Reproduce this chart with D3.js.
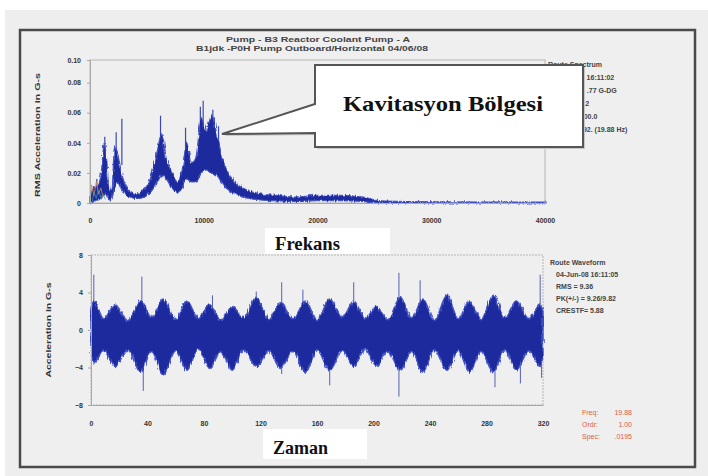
<!DOCTYPE html>
<html>
<head>
<meta charset="utf-8">
<script src="https://cdn.jsdelivr.net/npm/d3@7"></script>
<style>
  body { margin: 0; background: #fff; }
</style>
</head>
<body>
<svg id="chart" width="708" height="476"></svg>
<script>
// ---- spectrum (top) ----
const specFreq = [0, 300, 700, 1000, 1250, 1450, 1700, 1950, 2150, 2400, 2700, 3000, 3500, 4200, 4800, 5300, 5800, 6300, 6700, 7200, 7700, 8100, 8500, 8900, 9300, 9800, 10200, 10700, 11200, 11700, 12300, 13000, 14000, 15000, 16500, 18000, 20000, 22000, 24000, 25500, 30000, 35000, 40000];
const specHi = [0.004, 0.010, 0.012, 0.020, 0.040, 0.030, 0.008, 0.010, 0.038, 0.034, 0.022, 0.014, 0.008, 0.006, 0.010, 0.016, 0.030, 0.046, 0.030, 0.020, 0.014, 0.022, 0.040, 0.026, 0.030, 0.056, 0.048, 0.058, 0.044, 0.028, 0.018, 0.012, 0.008, 0.006, 0.005, 0.004, 0.005, 0.005, 0.004, 0.0015, 0.0008, 0.0006, 0.0006];
const specLo = [0.000, 0.001, 0.002, 0.003, 0.006, 0.005, 0.002, 0.003, 0.010, 0.014, 0.010, 0.007, 0.004, 0.003, 0.004, 0.007, 0.012, 0.018, 0.016, 0.010, 0.007, 0.010, 0.016, 0.014, 0.014, 0.020, 0.022, 0.020, 0.018, 0.012, 0.008, 0.005, 0.003, 0.002, 0.0015, 0.001, 0.0015, 0.0015, 0.001, 0.000, 0.000, 0.000, 0.000];
const specSpikes = [[1300, 0.044], [2300, 0.047], [2800, 0.056], [6200, 0.058], [8400, 0.050], [9700, 0.064], [9950, 0.068], [10800, 0.062], [11300, 0.051], [600, 0.016]];
const specOrangeFreq = [0, 150, 350, 550, 750, 950, 1150];
const specOrange = [0.002, 0.012, 0.005, 0.014, 0.006, 0.010, 0.004];
const specXTicks = [0, 10000, 20000, 30000, 40000];
const specYTicks = [0, 0.02, 0.04, 0.06, 0.08, 0.095];
const specYLabels = ['0', '0.02', '0.04', '0.06', '0.08', '0.10'];
const specInfo = ['Route Spectrum', '04-Jun-08 16:11:02', 'OVRALL= .77 G-DG', 'RMS = 0.22', 'LOAD = 100.0', 'RPM = 1192. (19.88 Hz)'];

// ---- waveform (bottom) ----
const waveTime = [0, 2, 9, 17, 26, 35, 43, 51, 60, 68, 76, 84, 92, 100, 108, 117, 126, 134, 143, 152, 160, 169, 178, 186, 194, 202, 210, 219, 227, 235, 243, 252, 260, 268, 276, 285, 293, 301, 310, 318, 320];
const waveHi = [2.2, 3.1, 1.2, 2.7, 1.0, 3.1, 1.3, 3.3, 1.1, 3.1, 1.2, 2.7, 1.0, 2.5, 1.3, 3.5, 1.1, 2.9, 1.2, 3.1, 1.0, 3.3, 1.3, 3.1, 1.2, 2.5, 1.1, 3.5, 1.3, 3.3, 1.0, 3.7, 1.2, 3.1, 1.1, 3.7, 1.3, 3.1, 1.2, 2.7, 2.0];
const waveLo = [-2.6, -3.5, -2.2, -3.9, -2.1, -4.5, -2.3, -4.7, -2.2, -4.3, -2.0, -4.1, -2.3, -4.3, -2.1, -3.9, -2.2, -4.1, -2.3, -4.5, -2.1, -4.3, -2.2, -3.9, -2.0, -3.9, -2.2, -4.3, -2.3, -4.5, -2.1, -4.3, -2.2, -4.5, -2.3, -4.5, -2.1, -4.3, -2.2, -3.9, -2.8];
const waveSpikes = [[2, 5.9], [36, 5.7], [135, 5.1], [150, 4.3], [117, 4.1], [86, 3.7], [186, 5.1], [218, 6.1], [233, 5.3], [318, 5.9],
                    [37, -6.5], [218, -7.1], [169, -5.9], [286, -6.1], [304, -5.7], [319, -5.1], [135, -4.7], [2, -3.7]];
const waveXTicks = [0, 40, 80, 120, 160, 200, 240, 280, 320];
const waveYTicks = [-8, -4, 0, 4, 8];
const waveInfo = ['Route Waveform', '04-Jun-08 16:11:05', 'RMS = 9.36', 'PK(+/-) = 9.26/9.82', 'CRESTF= 5.88'];
const cursorInfo = [['Freq:', '19.88'], ['Ordr:', '1.00'], ['Spec:', '.0195']];

const SANS = '"Liberation Sans", Arial, sans-serif';
const SERIF = '"Liberation Serif", "Times New Roman", serif';

const svg = d3.select('#chart').style('font-family', SANS);

// filter that roughens the blue bands
const defs = svg.append('defs');
const flt = defs.append('filter').attr('id', 'rough')
  .attr('x', '-5%').attr('y', '-20%').attr('width', '110%').attr('height', '140%');
flt.append('feTurbulence').attr('type', 'fractalNoise')
  .attr('baseFrequency', '0.7 0.1').attr('numOctaves', 2).attr('seed', 3).attr('result', 'n');
flt.append('feDisplacementMap').attr('in', 'SourceGraphic').attr('in2', 'n')
  .attr('scale', 4).attr('xChannelSelector', 'R').attr('yChannelSelector', 'G');

// page + frame
svg.append('rect').attr('x', 5).attr('y', 10).attr('width', 703).attr('height', 466).attr('fill', '#eeeeee');
svg.append('rect').attr('x', 20).attr('y', 30).attr('width', 675).attr('height', 437)
  .attr('fill', '#efefef').attr('stroke', '#4a4a4a').attr('stroke-width', 2.5);

// titles
svg.append('text').attr('x', 318).attr('y', 42).attr('text-anchor', 'middle')
  .attr('font-size', 7).attr('font-weight', 'bold').attr('fill', '#444')
  .attr('textLength', 184).attr('lengthAdjust', 'spacingAndGlyphs')
  .text('Pump - B3 Reactor Coolant Pump - A');
svg.append('text').attr('x', 312).attr('y', 51).attr('text-anchor', 'middle')
  .attr('font-size', 7).attr('font-weight', 'bold').attr('fill', '#444')
  .attr('textLength', 232).attr('lengthAdjust', 'spacingAndGlyphs')
  .text('B1jdk  -P0H  Pump Outboard/Horizontal 04/06/08');

// ================= top: spectrum =================
const x1 = d3.scaleLinear().domain([0, 40000]).range([90, 545]);
const y1 = d3.scaleLinear().domain([0, 0.095]).range([203, 60]);

svg.append('rect').attr('x', 90).attr('y', 60).attr('width', 455).attr('height', 143)
  .attr('fill', 'none').attr('stroke', '#b5b5b5').attr('stroke-width', 1);

const specData = specFreq.map((f, i) => ({ f, hi: specHi[i], lo: specLo[i] }));
const gSpec = svg.append('g');
gSpec.selectAll('.spike')
  .data(specSpikes)
  .join('line')
    .attr('class', 'spike')
    .attr('x1', d => x1(d[0])).attr('x2', d => x1(d[0]))
    .attr('y1', d => y1(d[1] * 0.45)).attr('y2', d => y1(d[1]))
    .attr('stroke', '#3b49b0').attr('stroke-width', 1.2);
gSpec.append('path')
  .datum(specData)
  .attr('d', d3.area().curve(d3.curveMonotoneX)
    .x(d => x1(d.f)).y0(d => y1(d.lo)).y1(d => y1(d.hi)))
  .attr('fill', '#1f2c9e').attr('stroke', '#4453c4').attr('stroke-width', 1.2)
  .attr('filter', 'url(#rough)');
gSpec.append('path')
  .datum(specOrangeFreq.map((f, i) => [f, specOrange[i]]))
  .attr('d', d3.line().x(d => x1(d[0])).y(d => y1(d[1])))
  .attr('fill', 'none').attr('stroke', '#d98a4a').attr('stroke-width', 1).attr('opacity', 0.8);
gSpec.append('path')
  .datum(specOrangeFreq.map((f, i) => [f + 200, specOrange[i] * 0.6]))
  .attr('d', d3.line().x(d => x1(d[0])).y(d => y1(d[1])))
  .attr('fill', 'none').attr('stroke', '#3aa08a').attr('stroke-width', 1).attr('opacity', 0.7);

const ax1 = svg.append('g').attr('transform', 'translate(0,203)')
  .call(d3.axisBottom(x1).tickValues(specXTicks).tickSize(0).tickPadding(15).tickFormat(d3.format('d')));
const ay1 = svg.append('g').attr('transform', 'translate(90,0)')
  .call(d3.axisLeft(y1).tickValues(specYTicks).tickSize(3).tickPadding(6).tickFormat((d, i) => specYLabels[i]));
[ax1, ay1].forEach(a => {
  a.attr('font-family', SANS);
  a.select('.domain').attr('stroke', '#a8a8a8');
  a.selectAll('line').attr('stroke', '#a8a8a8');
  a.selectAll('text').attr('font-size', 7).attr('font-weight', 'bold').attr('fill', '#333');
});
svg.append('text').attr('transform', 'translate(40,135) rotate(-90)').attr('text-anchor', 'middle')
  .attr('font-size', 7).attr('font-weight', 'bold').attr('fill', '#333')
  .attr('textLength', 124).attr('lengthAdjust', 'spacingAndGlyphs')
  .text('RMS Acceleration in G-s');

// info block (mostly hidden by the callout)
svg.append('g').selectAll('text')
  .data(specInfo)
  .join('text')
    .attr('x', (d, i) => i === 0 ? 548 : 552)
    .attr('y', (d, i) => 67 + i * 13)
    .attr('font-size', 7).attr('font-weight', 'bold').attr('fill', '#444')
    .text(d => d);

// callout
const callout = [[315, 65], [583, 65], [583, 147], [315, 147], [315, 133], [222, 134], [315, 104]];
svg.append('path')
  .attr('d', d3.line()(callout.map(p => [p[0] + 2, p[1] + 2])) + 'Z')
  .attr('fill', '#c8c8c8').attr('stroke', 'none');
svg.append('path')
  .attr('d', d3.line()(callout) + 'Z')
  .attr('fill', '#ffffff').attr('stroke', '#555').attr('stroke-width', 2);
svg.append('text').attr('x', 343).attr('y', 111)
  .style('font-family', SERIF)
  .attr('font-size', 22).attr('font-weight', 'bold').attr('fill', '#111')
  .attr('textLength', 200).attr('lengthAdjust', 'spacingAndGlyphs')
  .text('Kavitasyon Bölgesi');

// Frekans label
svg.append('rect').attr('x', 265).attr('y', 228).attr('width', 125).attr('height', 26).attr('fill', '#fff');
svg.append('text').attr('x', 275).attr('y', 250)
  .style('font-family', SERIF)
  .attr('font-size', 18).attr('font-weight', 'bold').attr('fill', '#111')
  .attr('textLength', 65).attr('lengthAdjust', 'spacingAndGlyphs')
  .text('Frekans');

// ================= bottom: waveform =================
const x2 = d3.scaleLinear().domain([0, 320]).range([91, 543]);
const y2 = d3.scaleLinear().domain([-8, 8]).range([405, 255]);

svg.append('rect').attr('x', 91).attr('y', 255).attr('width', 452).attr('height', 150)
  .attr('fill', 'none').attr('stroke', '#b5b5b5').attr('stroke-width', 1).attr('stroke-dasharray', '2,1');

const waveData = waveTime.map((t, i) => ({ t, hi: waveHi[i], lo: waveLo[i] }));
const gWave = svg.append('g');
gWave.selectAll('.spike')
  .data(waveSpikes)
  .join('line')
    .attr('class', 'spike')
    .attr('x1', d => x2(d[0])).attr('x2', d => x2(d[0]))
    .attr('y1', y2(0)).attr('y2', d => y2(d[1]))
    .attr('stroke', '#5461b8').attr('stroke-width', 1);
gWave.append('path')
  .datum(waveData)
  .attr('d', d3.area().curve(d3.curveMonotoneX)
    .x(d => x2(d.t)).y0(d => y2(d.lo)).y1(d => y2(d.hi)))
  .attr('fill', '#1f2c9e').attr('stroke', '#4555c8').attr('stroke-width', 1.5)
  .attr('filter', 'url(#rough)');

const ax2 = svg.append('g').attr('transform', 'translate(0,405)')
  .call(d3.axisBottom(x2).tickValues(waveXTicks).tickSize(0).tickPadding(16).tickFormat(d3.format('d')));
const ay2 = svg.append('g').attr('transform', 'translate(91,0)')
  .call(d3.axisLeft(y2).tickValues(waveYTicks).tickSize(3).tickPadding(5));
[ax2, ay2].forEach(a => {
  a.attr('font-family', SANS);
  a.select('.domain').attr('stroke', '#a8a8a8');
  a.selectAll('line').attr('stroke', '#a8a8a8');
  a.selectAll('text').attr('font-size', 7).attr('font-weight', 'bold').attr('fill', '#333');
});
svg.append('text').attr('transform', 'translate(51,330) rotate(-90)').attr('text-anchor', 'middle')
  .attr('font-size', 7).attr('font-weight', 'bold').attr('fill', '#333')
  .attr('textLength', 95).attr('lengthAdjust', 'spacingAndGlyphs')
  .text('Acceleration in G-s');

svg.append('g').selectAll('text')
  .data(waveInfo)
  .join('text')
    .attr('x', (d, i) => i === 0 ? 550 : 556)
    .attr('y', (d, i) => 265 + i * 12)
    .attr('font-size', 7).attr('font-weight', 'bold').attr('fill', '#444')
    .text(d => d);

const gCur = svg.append('g');
gCur.selectAll('.lab')
  .data(cursorInfo)
  .join('text')
    .attr('class', 'lab')
    .attr('x', 582).attr('y', (d, i) => 415 + i * 12)
    .attr('font-size', 7).attr('fill', '#e05a4a')
    .text(d => d[0]);
gCur.selectAll('.val')
  .data(cursorInfo)
  .join('text')
    .attr('class', 'val')
    .attr('x', 632).attr('y', (d, i) => 415 + i * 12)
    .attr('text-anchor', 'end')
    .attr('font-size', 7).attr('fill', '#e05a4a')
    .text(d => d[1]);

// Zaman label
svg.append('rect').attr('x', 263).attr('y', 429).attr('width', 104).attr('height', 30).attr('fill', '#fff');
svg.append('text').attr('x', 273).attr('y', 454)
  .style('font-family', SERIF)
  .attr('font-size', 18).attr('font-weight', 'bold').attr('fill', '#111')
  .attr('textLength', 55).attr('lengthAdjust', 'spacingAndGlyphs')
  .text('Zaman');
</script>
</body>
</html>
